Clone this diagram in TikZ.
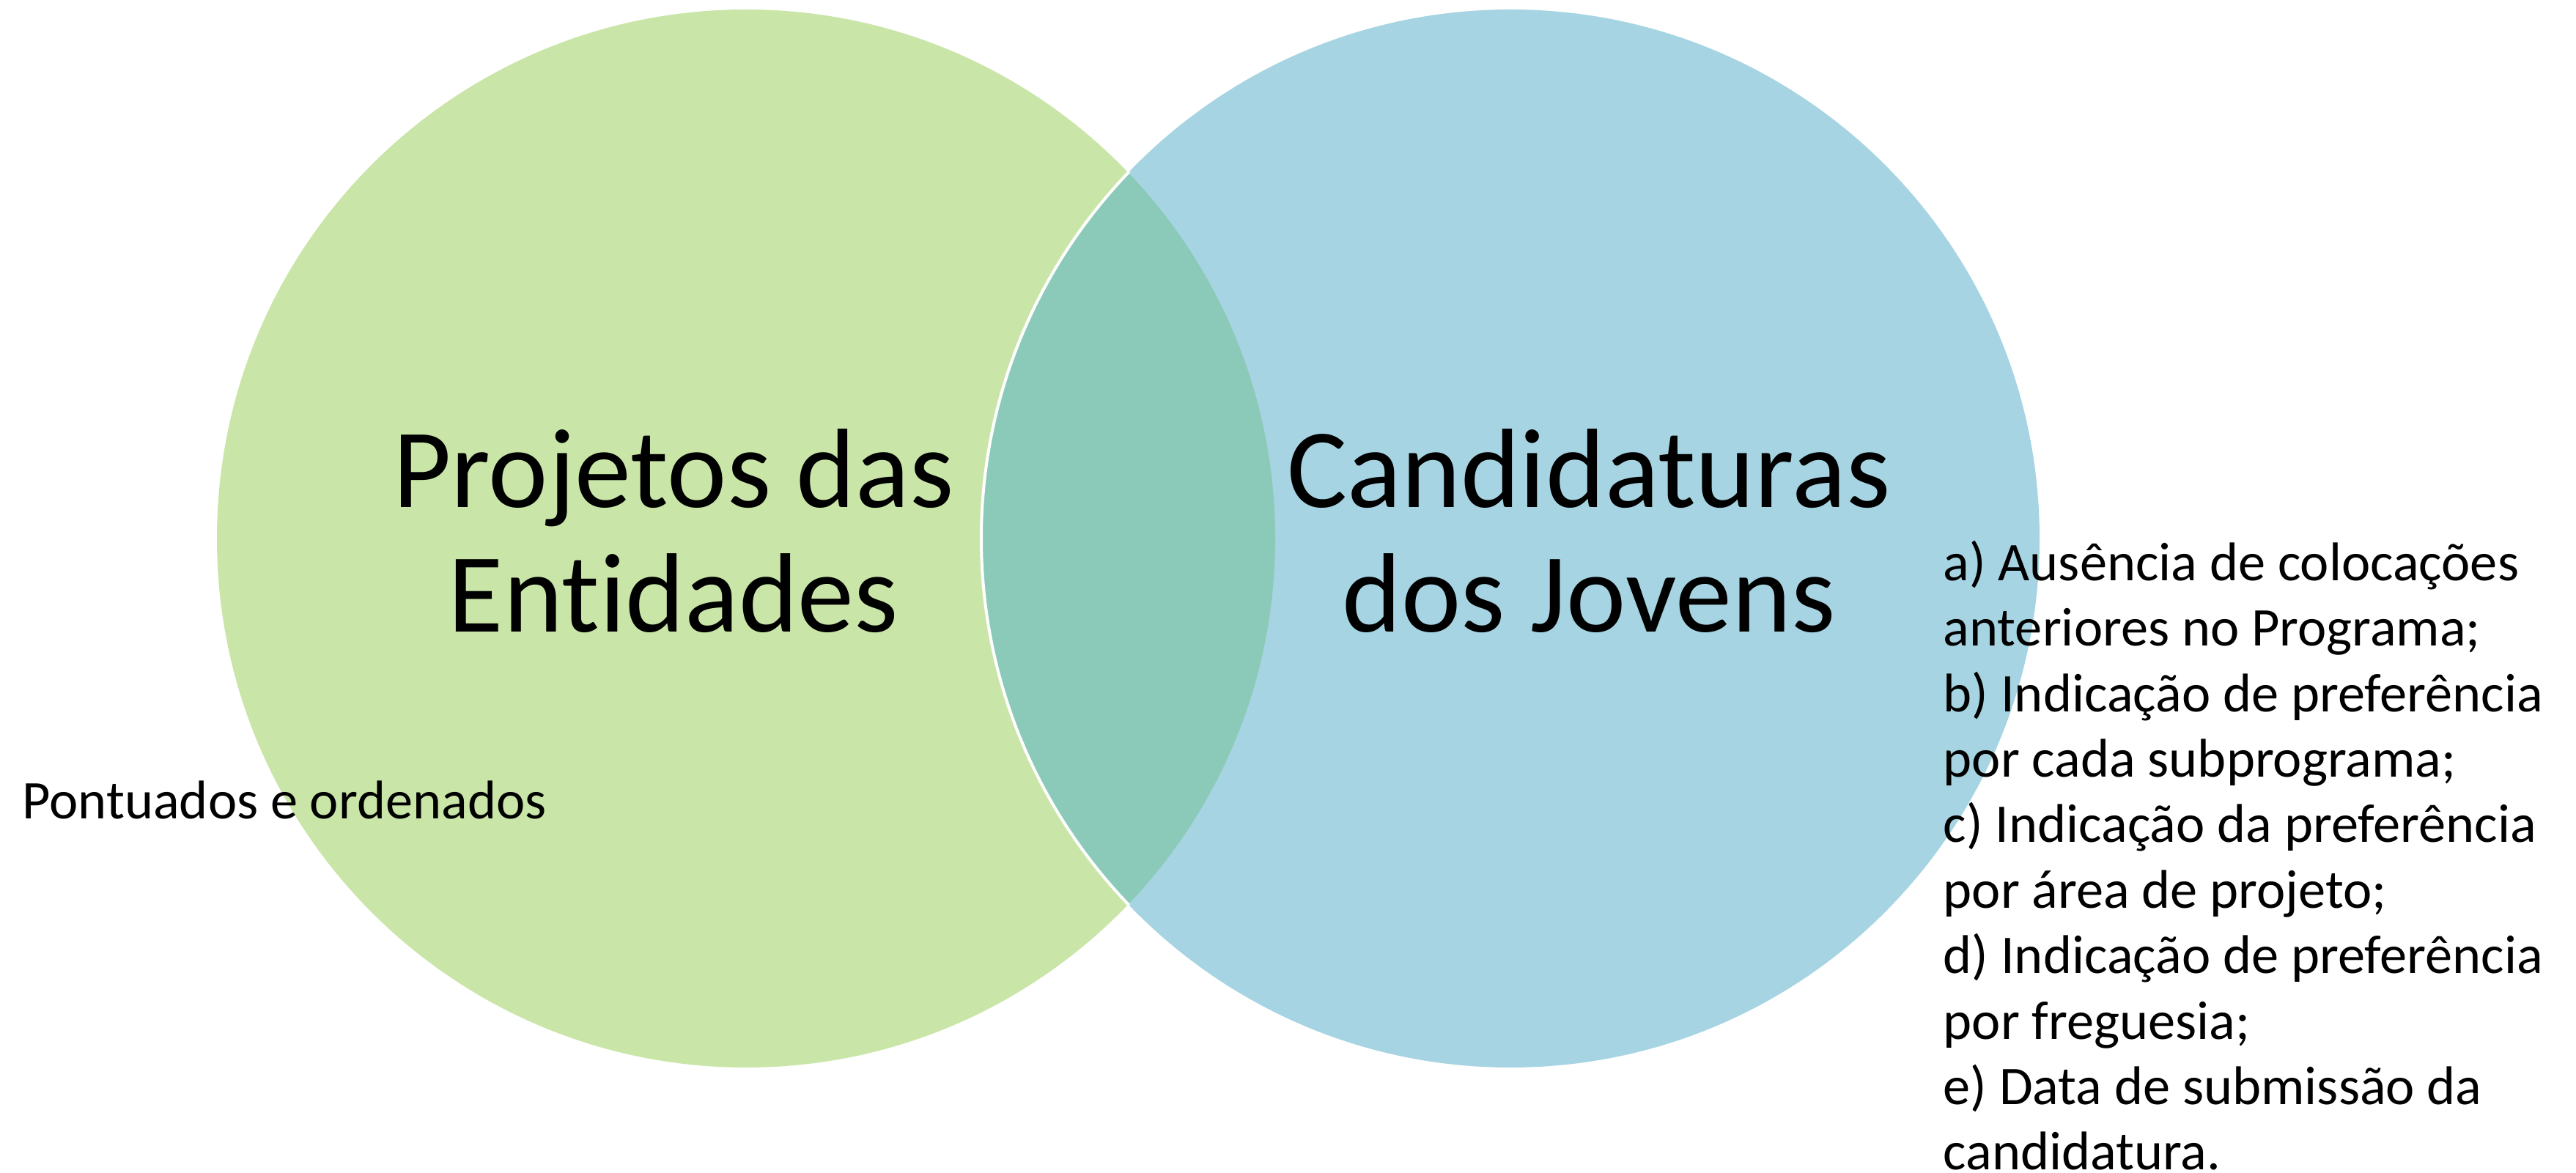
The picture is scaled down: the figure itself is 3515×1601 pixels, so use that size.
\documentclass[tikz,border=0pt]{standalone}
\usepackage{fontspec}
\setmainfont{Carlito}[Ligatures=NoCommon]
\definecolor{vgreen}{RGB}{201,230,168}
\definecolor{vblue}{RGB}{166,212,226}
\definecolor{vteal}{RGB}{139,201,184}
\tikzset{
  bigtext/.style={inner sep=0pt, align=center, font=\fontsize{38.5pt}{42.5pt}\selectfont},
  smalltext/.style={inner sep=0pt, align=left, font=\fontsize{18.6pt}{22.35pt}\selectfont},
}
\begin{document}
\begin{tikzpicture}[x=0.25pt,y=-0.25pt]
\useasboundingbox (0,0) rectangle (3515,1601);
\fill[white] (0,0) rectangle (3515,1601);
\coordinate (cL) at (1018,735);
\coordinate (cR) at (2061,735);
\fill[vgreen] (cL) circle[radius=180.5pt];
\fill[vblue] (cR) circle[radius=180.5pt];
\begin{scope}
  \clip (cL) circle[radius=180.5pt];
  \fill[vteal] (cR) circle[radius=180.5pt];
\end{scope}
\begin{scope}
  \clip (cL) circle[radius=181pt];
  \draw[white, line width=1pt] (cR) circle[radius=180.5pt];
\end{scope}
% anchor=base of a multi-line node is the baseline of its last line
\node[bigtext, anchor=base] (left) at (919,863) {Projetos das\\Entidades};
\node[bigtext, anchor=base] (right) at (2168,863) {Candidaturas\\dos Jovens};
\node[smalltext, anchor=base west] (score) at (30,1118) {Pontuados e ordenados};
\node[smalltext, anchor=base west] (crit) at (2651,1597) {a) Ausência de colocações\\anteriores no Programa;\\b) Indicação de preferência\\por cada subprograma;\\c) Indicação da preferência\\por área de projeto;\\d) Indicação de preferência\\por freguesia;\\e) Data de submissão da\\candidatura.};
\end{tikzpicture}
\end{document}
